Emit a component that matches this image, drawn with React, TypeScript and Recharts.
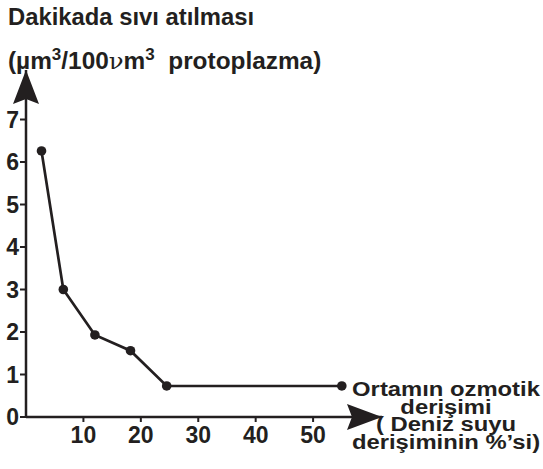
import { LineChart, Line, XAxis, YAxis, ReferenceDot } from "recharts";

const CONCENTRATION = [2.7, 6.5, 12, 18.2, 24.5, 55];
const EXCRETION = [6.26, 3.0, 1.93, 1.56, 0.73, 0.73];
const X_TICKS = [10, 20, 30, 40, 50];
const Y_TICKS = [0, 1, 2, 3, 4, 5, 6, 7];

const X_MAX = 62;
const Y_MAX = 8.165;
const INK = "#231f20";
const FONT = "'Liberation Sans', Arial, sans-serif";

const data = CONCENTRATION.map((x, i) => ({ x, y: EXCRETION[i] }));

function UpArrow({ cx, cy }: { cx?: number; cy?: number }) {
  if (cx == null || cy == null) return null;
  return <path d={`M${cx},${cy} L${cx - 13},${cy + 34} L${cx},${cy + 29} L${cx + 13},${cy + 34} Z`} fill={INK} />;
}

function RightArrow({ cx, cy }: { cx?: number; cy?: number }) {
  if (cx == null || cy == null) return null;
  return <path d={`M${cx},${cy} L${cx - 35},${cy - 13} L${cx - 30},${cy} L${cx - 35},${cy + 13} Z`} fill={INK} />;
}

const sup = { fontSize: 16, position: "relative" as const, top: -9 };
const tickStyle = { fill: INK, fontSize: 23, fontWeight: 700, fontFamily: FONT };
const wide = (s: number) => ({ display: "inline-block", transform: `scaleX(${s})`, transformOrigin: "left" });

export default function App() {
  return (
    <div style={{ position: "absolute", left: 0, top: 0, width: 543, height: 469, fontFamily: FONT, color: INK }}>
      <div style={{ position: "absolute", left: 8, top: 4, fontSize: 23, fontWeight: 700, whiteSpace: "nowrap" }}>
        <span style={wide(1.035)}>Dakikada sıvı atılması</span>
      </div>
      <div style={{ position: "absolute", left: 8, top: 48, fontSize: 23, fontWeight: 700, whiteSpace: "pre" }}>
        <span style={wide(1.06)}>
          (µm<span style={sup}>3</span>/100<span style={{ fontWeight: 400, fontFamily: "'DejaVu Serif', serif" }}>ν</span>m<span style={sup}>3</span>  protoplazma)
        </span>
      </div>
      <LineChart width={543} height={469} data={data} margin={{ top: 70, right: 161, left: 0, bottom: 0 }}>
        <XAxis
          dataKey="x"
          type="number"
          domain={[0, X_MAX]}
          ticks={X_TICKS}
          height={52}
          tickSize={5}
          tickMargin={5}
          axisLine={{ stroke: INK, strokeWidth: 2.5 }}
          tickLine={{ stroke: INK, strokeWidth: 2 }}
          tick={tickStyle}
        />
        <YAxis
          dataKey="y"
          type="number"
          domain={[0, Y_MAX]}
          ticks={Y_TICKS}
          width={26}
          tickSize={6}
          tickMargin={1}
          axisLine={{ stroke: INK, strokeWidth: 2.5 }}
          tickLine={{ stroke: INK, strokeWidth: 2 }}
          tick={tickStyle}
        />
        <Line
          dataKey="y"
          stroke={INK}
          strokeWidth={2.7}
          dot={{ r: 4.8, fill: INK, stroke: INK, strokeWidth: 0 }}
          isAnimationActive={false}
        />
        <ReferenceDot x={0} y={Y_MAX} ifOverflow="visible" shape={<UpArrow />} />
        <ReferenceDot x={X_MAX} y={0} ifOverflow="visible" shape={<RightArrow />} />
      </LineChart>
      <div
        style={{
          position: "absolute",
          left: 446 - 100,
          top: 381,
          width: 200,
          textAlign: "center",
          fontSize: 20,
          fontWeight: 700,
          lineHeight: "17.5px",
          whiteSpace: "nowrap",
          transform: "scaleX(1.19)",
          transformOrigin: "center",
        }}
      >
        Ortamın ozmotik
        <br />
        derişimi
        <br />( Deniz suyu
        <br />
        derişiminin %’si)
      </div>
    </div>
  );
}
